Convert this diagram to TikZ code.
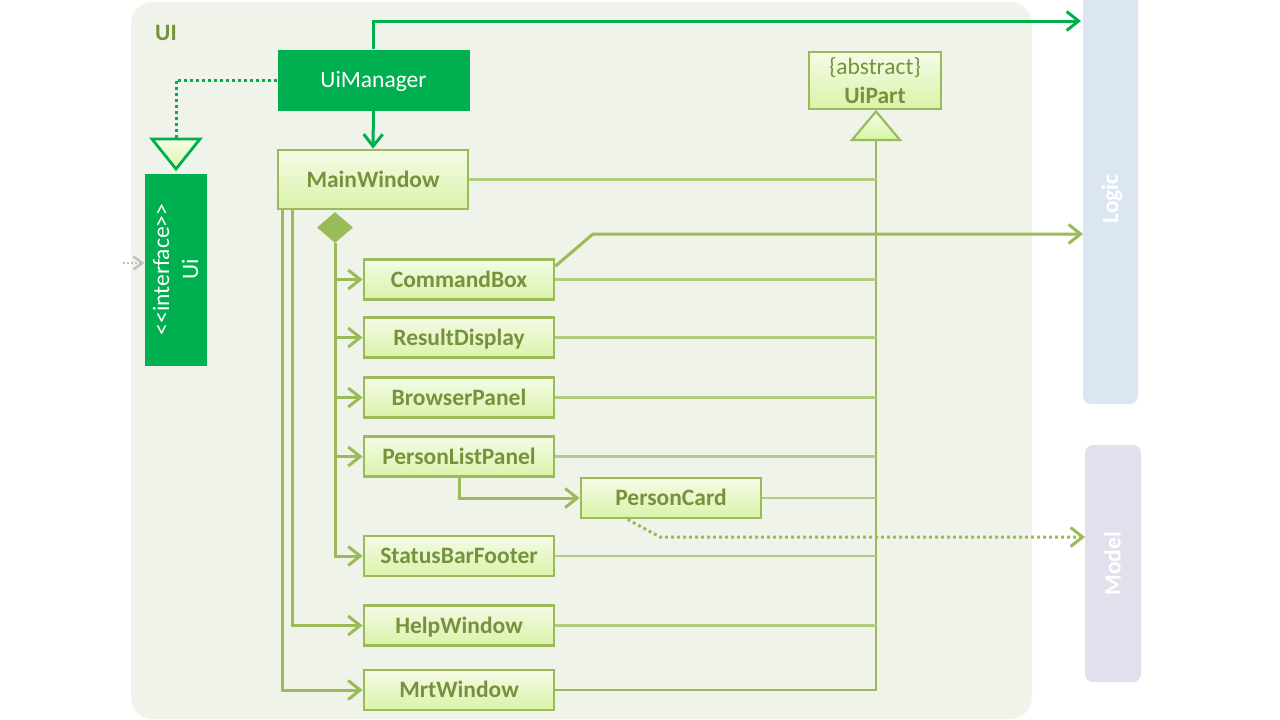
\documentclass[tikz,border=0pt]{standalone}
\usepackage{fontspec}
\setmainfont{Carlito}
\usetikzlibrary{arrows.meta,shapes.geometric}
\definecolor{pkgbg}{HTML}{F0F3EA}
\definecolor{bord}{HTML}{9BBB59}
\definecolor{inhc}{HTML}{B2CC82}
\definecolor{olive}{HTML}{76923C}
\definecolor{uigreen}{HTML}{00B050}
\definecolor{boxtop}{HTML}{F4FBE6}
\definecolor{boxbot}{HTML}{DAF3A9}
\definecolor{tritop}{HTML}{F6FDE8}
\definecolor{tribot}{HTML}{D6F6A4}
\definecolor{logicbg}{HTML}{DCE6F2}
\definecolor{modelbg}{HTML}{E4DFEC}
\definecolor{extgrey}{HTML}{BFBFBF}
\begin{document}
\begin{tikzpicture}[x=1pt,y=-1pt,
  txt/.style={font=\fontsize{23.5}{29}\selectfont},
  one/.style={text height=18pt, text depth=3pt},
  box/.style={draw=bord, line width=2.8pt, top color=boxtop, bottom color=boxbot,
    text=olive, inner sep=0pt, minimum width=190pt, minimum height=40pt, font=\fontsize{23.5}{29}\selectfont\bfseries},
  gbox/.style={txt, fill=uigreen, text=white, inner sep=0pt},
  layer/.style={rounded corners=8pt, inner sep=0pt, text=white, rotate=90,
    font=\fontsize{23.5}{29}\selectfont\bfseries},
  garr/.style={draw=uigreen, line width=3pt, -{Straight Barb[length=12pt,width=19pt]}},
  arr/.style={draw=bord, line width=3pt, -{Straight Barb[length=12pt,width=19pt]}},
  inh/.style={draw=inhc, line width=2.2pt},
  inhv/.style={draw=bord, line width=2.5pt},
  gdot/.style={draw=uigreen, line width=3pt, dash pattern=on 3pt off 3pt},
  pdot/.style={draw=bord, line width=3pt, dash pattern=on 3pt off 3pt,
    -{Straight Barb[length=12pt,width=19pt]}},
  ext/.style={draw=extgrey, line width=2.2pt, dash pattern=on 2pt off 2pt,
    -{Straight Barb[length=9pt,width=13pt]}}
]
\useasboundingbox (0,0) rectangle (1280,720);
\fill[white] (0,0) rectangle (1280,720);
% UI package
\fill[pkgbg, rounded corners=22pt] (131,2) rectangle (1032,719);
\node[txt, one, font=\fontsize{23.5}{29}\selectfont\bfseries, text=olive] (uilbl) at (166,33) {UI};

% other layers
\node[layer, one, fill=logicbg, minimum width=410pt, minimum height=55pt] (logic) at (1110.5,199) {Logic};
\node[layer, one, fill=modelbg, minimum width=237pt, minimum height=56pt] (model) at (1113,563.5) {Model};

% classes
\node[gbox, one, minimum width=192pt, minimum height=61pt] (uim) at (373.5,80) {UiManager};
\node[box, one, minimum height=59pt] (mw) at (373,179.5) {MainWindow};
\node[gbox, rotate=90, align=center, minimum width=192pt, minimum height=62pt] (ui) at (175.5,269.5) {{<}{<}interface{>}{>}\\Ui};
\node[box, minimum width=132pt, minimum height=57pt, align=center] (uip) at (875,80.5) {{\mdseries\{abstract\}}\\UiPart};
\node[box, one] (cb) at (459,279.5) {CommandBox};
\node[box, one] (rd) at (459,337.5) {ResultDisplay};
\node[box, one] (bp) at (459,397.5) {BrowserPanel};
\node[box, one] (plp) at (459,456.5) {PersonListPanel};
\node[box, one, minimum width=180pt] (pc) at (671,498) {PersonCard};
\node[box, one] (sbf) at (459,556) {StatusBarFooter};
\node[box, one] (hw) at (459,625.5) {HelpWindow};
\node[box, one] (mrt) at (459,690) {MrtWindow};

% composition diamond
\node[diamond, fill=bord, inner sep=0pt, minimum width=36pt, minimum height=31pt] (dia) at (335,227.5) {};

% inheritance triangles
\coordinate (uipTri) at (876,140);
\path[draw=bord, line width=2.2pt, top color=tritop, bottom color=tribot]
  (852,140) -- (876,111.5) -- (900,140) -- cycle;
\coordinate (uiTri) at (176,139);
\path[draw=uigreen, line width=2.8pt, top color=tritop, bottom color=tribot]
  (152,139) -- (200,139) -- (176,169) -- cycle;

% inheritance lines to UiPart
\draw[inhv] (uipTri) |- (mrt.east);
\foreach \n in {mw,cb,rd,bp,plp,pc,sbf,hw}
  \draw[inh] (\n.east) -- (\n.east -| uipTri);

% UiManager connections
\draw[garr] (uim.south) -- (mw.north);
\coordinate (logicA) at (1081,21);
\draw[garr] (uim.north) |- (logicA);
\draw[gdot] (uim.west) -| (uiTri);

% MainWindow compositions
\foreach \n in {cb,rd,bp,plp,sbf}
  \draw[arr] (dia.south) |- (\n.west);
\draw[arr] ([xshift=16pt]mw.south west) |- (hw.west);
\draw[arr] ([xshift=6pt]mw.south west) |- (mrt.west);
\draw[arr] (plp.south) |- (pc.west);

% to Logic and Model
\coordinate (logicB) at (1083,234);
\draw[arr] ([yshift=-8pt]cb.north east) -- (593,234) -- (logicB);
\coordinate (modelA) at (1085,537);
\draw[pdot] ([xshift=48pt]pc.south west) -- (660,537) -- (modelA);

% external dependency into Ui
\coordinate (extA) at (123,263);
\draw[ext] (extA) -- ([yshift=6.5pt]ui.north);
\end{tikzpicture}
\end{document}
